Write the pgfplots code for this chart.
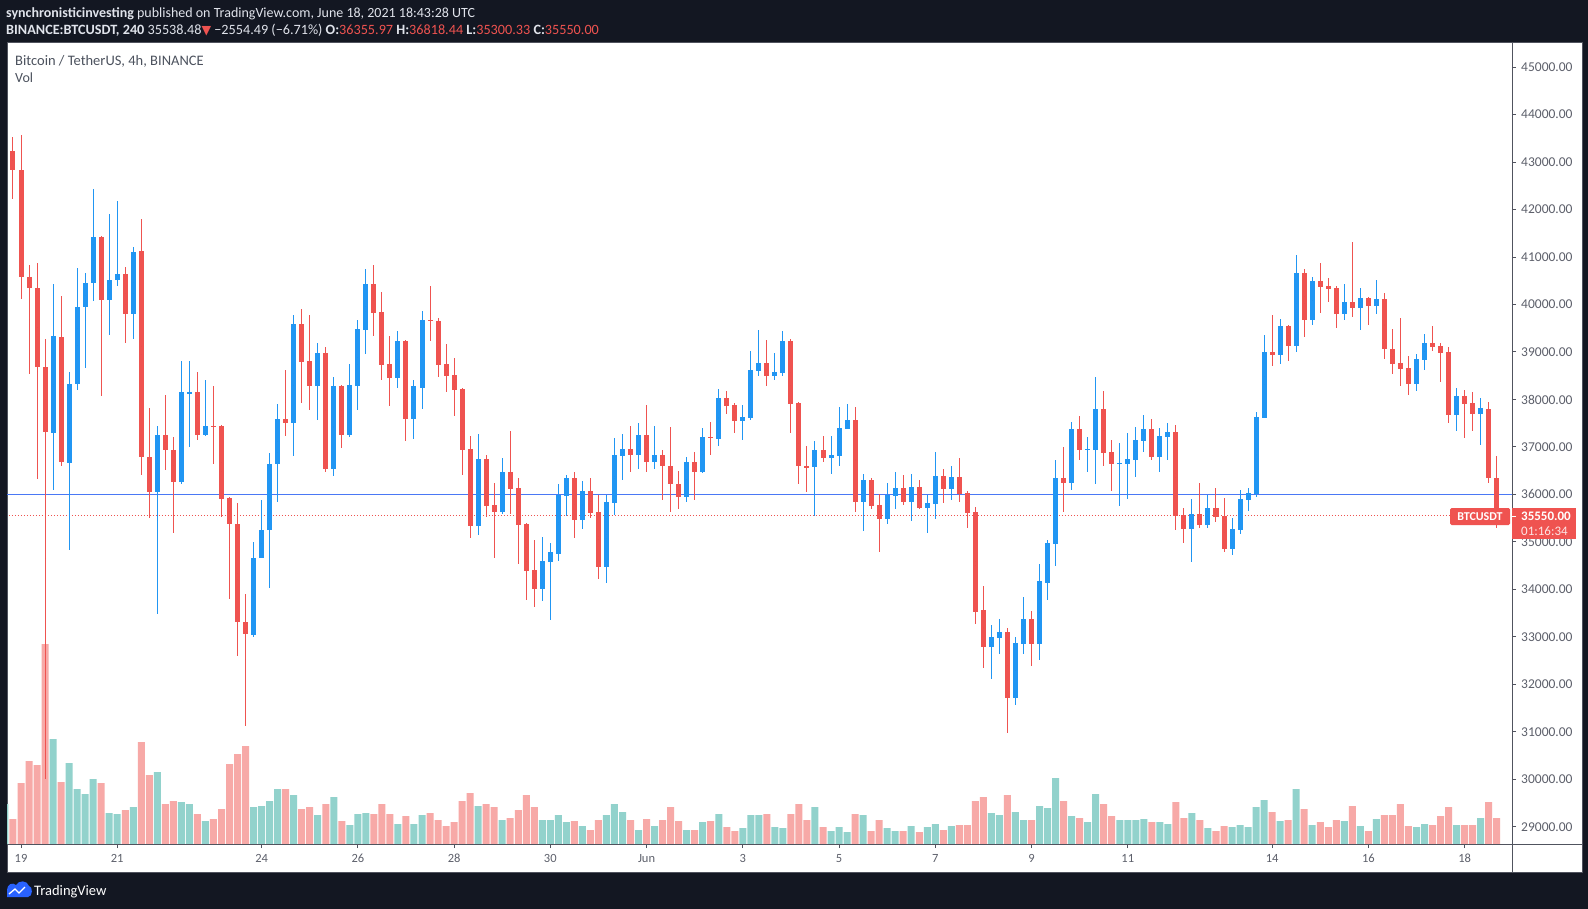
\documentclass[border=0pt]{standalone}
\usepackage{pgfplots}
\pgfplotsset{compat=1.18}
\usepackage{pgfplotstable}
\usepackage{fontspec}
\setmainfont{Carlito}
\newfontfamily\dejavu{DejaVu Sans}
\definecolor{bg}{HTML}{131722}
\definecolor{upc}{HTML}{2196F3}
\definecolor{dnc}{HTML}{EF5350}
\definecolor{upv}{HTML}{92D2CC}
\definecolor{dnv}{HTML}{F7A9A7}
\definecolor{axc}{HTML}{50535E}
\definecolor{hdr}{HTML}{E0E3EB}
\definecolor{lbl}{HTML}{5D606B}
\definecolor{ttl}{HTML}{4C525E}
\definecolor{bline}{HTML}{4A78F5}
\definecolor{tvblue}{HTML}{2962FF}

% 4h candles, i = 0 is 19 May 2021 00:00 UTC
\pgfplotstableread{
i o h l c v
-2 42939 43300 42900 43231 40
-1 43231 43523 42218 42841 25
0 42841 43581 40114 40582 61
1 40582 40825 38537 40338 83
2 40358 40874 36316 38683 79
3 38683 39277 30015 37309 200
4 37290 40436 36102 39345 105
5 39325 40182 36589 36676 62
6 36657 38585 34836 38332 81
7 38322 40777 38196 39958 55
8 39939 40669 38673 40455 50
9 40445 42442 40066 41429 65
10 41429 41450 38079 40095 61
11 40095 41897 39364 40523 31
12 40514 42189 40387 40650 30
13 40650 40796 39199 39803 34
14 39803 41215 39267 41117 37
15 41117 41799 36413 36784 102
16 36784 37826 35498 36043 69
17 36043 37446 33472 37251 72
18 37251 38098 36511 36930 40
19 36940 37212 35196 36258 43
20 36258 38819 36230 38147 42
21 38120 38819 36998 38147 40
22 38167 38585 37144 37261 30
23 37261 38400 37241 37446 23
24 37446 38274 36647 37430 25
25 37436 37460 35517 35907 35
26 35926 35950 33794 35371 80
27 35371 35810 32596 33307 90
28 33307 33910 31116 33053 98
29 33034 35001 33000 34670 37
30 34670 35888 34660 35255 38
31 35245 36881 34027 36647 43
32 36637 37913 35849 37592 55
33 37592 38624 37241 37514 55
34 37514 39783 36803 39598 49
35 39598 39910 37933 38780 35
36 38800 39783 37787 38274 37
37 38293 39199 37572 38985 29
38 38985 39111 36472 36530 40
39 36530 38478 36394 38274 47
40 38274 38300 36988 37261 23
41 37261 38751 37212 38313 19
42 38293 39676 37787 39491 30
43 39472 40757 38965 40436 31
44 40436 40835 39345 39832 30
45 39851 40270 38420 38731 40
46 38751 39345 37865 38459 30
47 38459 39452 38244 39238 20
48 39238 39260 37115 37592 28
49 37592 38400 37173 38274 20
50 38244 39871 37806 39676 29
51 39676 40397 39238 39657 31
52 39657 39715 38478 38731 24
53 38751 39179 38167 38498 18
54 38517 38878 37660 38206 22
55 38225 38240 36413 36939 43
56 36959 37241 35089 35342 51
57 35342 37280 35147 36754 38
58 36754 36832 35517 35761 40
59 35780 36248 34670 35634 37
60 35634 36774 35595 36462 24
61 36462 37339 35595 36121 26
62 36141 36355 34543 35362 34
63 35381 35400 33784 34397 49
64 34417 35050 33618 34018 37
65 34018 35108 33745 34602 24
66 34583 34982 33365 34777 24
67 34748 36229 34602 35995 29
68 35975 36414 35537 36355 22
69 36355 36482 35089 35459 23
70 35459 36287 35274 36082 18
71 36082 36355 35498 35615 14
72 35634 35995 34222 34475 24
73 34475 35995 34144 35849 29
74 35829 37193 35576 36832 40
75 36813 37280 36306 36959 32
76 36959 37446 36482 36832 24
77 36832 37495 36540 37261 14
78 37261 37894 36462 36686 25
79 36686 37446 36540 36832 18
80 36832 36939 35887 36589 24
81 36608 37426 35634 36209 37
82 36229 36501 35702 35956 23
83 35956 36793 35849 36686 14
84 36686 36900 35887 36462 14
85 36462 37407 36450 37212 22
86 37212 37534 36832 37190 23
87 37173 38225 37027 38040 30
88 38040 38186 37699 37865 17
89 37894 37933 37300 37553 13
90 37553 37894 37154 37641 16
91 37611 39024 37573 38624 29
92 38605 39472 38498 38770 29
93 38770 39257 38274 38498 30
94 38498 38985 38400 38585 17
95 38566 39452 38498 39238 16
96 39238 39277 37300 37913 30
97 37933 37950 36209 36589 40
98 36600 37027 36053 36570 24
99 36569 37134 35537 36939 37
100 36939 37241 36686 36774 17
101 36774 37241 36433 36832 13
102 36813 37845 36589 37407 17
103 37387 37913 37380 37573 12
104 37573 37845 35634 35849 30
105 35849 36433 35235 36306 29
106 36306 36336 35683 35761 13
107 35780 36014 34777 35488 24
108 35488 36248 35381 35995 16
109 35975 36482 35683 36141 13
110 36141 36414 35781 35849 13
111 35849 36433 35430 36160 18
112 36160 36306 35683 35722 12
113 35722 35995 35196 35810 17
114 35790 36900 35488 36394 20
115 36394 36540 35829 36121 14
116 36121 36589 35887 36375 18
117 36375 36774 35849 36014 19
118 36034 36082 35303 35615 19
119 35634 35741 33278 33531 43
120 33570 34076 32333 32791 47
121 32791 33258 32119 32986 31
122 32966 33385 32644 33092 29
123 33092 33190 30979 31709 49
124 31709 33005 31564 32878 32
125 32859 33842 32644 33385 24
126 33385 33550 32391 32859 24
127 32859 34524 32518 34183 38
128 34144 35050 33784 34982 36
129 34963 36735 34495 36355 66
130 36355 37008 35634 36248 43
131 36248 37534 36102 37387 28
132 37387 37660 36735 36939 26
133 36940 37212 36482 36959 22
134 36939 38478 36229 37806 50
135 37806 38186 36589 36881 40
136 36900 37154 36082 36647 28
137 36650 37085 35761 36667 24
138 36647 37300 35907 36754 24
139 36735 37426 36375 37154 24
140 37134 37680 36900 37387 25
141 37387 37592 36735 36793 22
142 36793 37407 36482 37241 22
143 37212 37495 36735 37319 20
144 37319 37465 35255 35547 42
145 35576 35722 34982 35274 26
146 35274 35907 34582 35595 31
147 35595 36248 35303 35362 24
148 35362 35995 35284 35722 16
149 35722 36141 35410 35527 13
150 35547 35927 34797 34855 18
151 34855 35508 34729 35274 17
152 35255 36102 35157 35907 19
153 35888 36141 35654 36034 17
154 36014 37738 35956 37641 37
155 37611 39364 37600 39004 44
156 39004 39783 38712 38946 32
157 38946 39705 38751 39549 23
158 39549 39560 38800 39131 24
159 39131 41049 39004 40669 55
160 40669 40738 39316 39676 35
161 39676 40582 39579 40504 19
162 40504 40884 39832 40377 22
163 40397 40562 40056 40329 17
164 40358 40397 39510 39803 24
165 39803 40436 39676 40056 23
166 40056 41322 39744 39929 38
167 39929 40358 39472 40144 18
168 40144 40163 39579 39978 13
169 39978 40523 39803 40124 25
170 40124 40251 38858 39053 29
171 39072 39491 38546 38751 29
172 38770 39725 38274 38644 40
173 38673 38926 38098 38332 18
174 38332 38965 38186 38858 17
175 38839 39384 38624 39199 20
176 39199 39549 39024 39111 19
177 39131 39199 38371 38985 28
178 39004 39111 37495 37680 37
179 37680 38244 37339 38079 19
180 38079 38206 37193 37913 19
181 37933 38147 37339 37699 19
182 37699 38021 37047 37826 26
183 37806 37952 36248 36336 42
184 36355.97 36818.44 35300.33 35550.00 26
}\candles

\pgfplotsset{
  upfilter/.style={restrict expr to domain={\thisrow{c}-\thisrow{o}}{0:100000}},
  dnfilter/.style={restrict expr to domain={\thisrow{c}-\thisrow{o}}{-100000:0}},
  wick/.style={only marks, mark size=0pt, mark options={draw=none, fill=none}, forget plot,
    error bars/y dir=both, error bars/y explicit, error bars/error mark=none,
    error bars/error bar style={draw=#1, line width=1pt, solid}},
  body/.style={only marks, mark size=0pt, mark options={draw=none, fill=none}, forget plot,
    error bars/y dir=both, error bars/y explicit, error bars/error mark=none,
    error bars/error bar style={draw=#1, line width=5pt, solid}},
  chartbox/.style={at={(7pt,-844pt)}, anchor=south west, scale only axis,
    width=1505pt, height=801pt, xmin=-1.746, xmax=185.91},
}

\begin{document}
\begin{tikzpicture}
\useasboundingbox (0,0) rectangle (1588pt,-909pt);
\begin{scope}[x=1pt,y=-1pt]
\fill[bg] (0,0) rectangle (1588,909);
\fill[white] (7,43) rectangle (1582,872);
\draw[axc, line width=1pt] (7,43) rectangle (1582,872);
\end{scope}

% volume
\begin{axis}[chartbox, ymin=0, ymax=801, hide axis, clip=true]
\addplot[upfilter, ybar, bar width=7pt, bar shift=0pt, fill=upv, draw=none] table[x=i,y=v]{\candles};
\addplot[dnfilter, ybar, bar width=7pt, bar shift=0pt, fill=dnv, draw=none] table[x=i,y=v]{\candles};
\end{axis}

% price
\begin{axis}[chartbox, ymin=28636, ymax=45509, clip=true,
  axis line style={draw=none},
  scaled y ticks=false, scaled x ticks=false,
  xtick={0,12,30,42,54,66,78,90,102,114,126,138,156,168,180},
  xticklabels={19,21,24,26,28,30,Jun,3,5,7,9,11,14,16,18},
  ytick={29000,30000,31000,32000,33000,34000,35000,36000,37000,38000,39000,40000,41000,42000,43000,44000,45000},
  yticklabels={29000.00,30000.00,31000.00,32000.00,33000.00,34000.00,35000.00,36000.00,37000.00,38000.00,39000.00,40000.00,41000.00,42000.00,43000.00,44000.00,45000.00},
  xtick pos=bottom, ytick pos=right, yticklabel pos=right,
  tick align=outside, major tick length=4pt,
  tick style={color=axc, line width=1pt},
  xticklabel style={font=\fontsize{12.5}{12.5}\selectfont, color=lbl, inner sep=0pt, yshift=-6pt},
  yticklabel style={font=\fontsize{13.5}{13.5}\selectfont, color=lbl, anchor=west, inner sep=0pt, xshift=5pt},
]
\draw[bline, line width=1pt] (axis cs:-3,36000) -- (axis cs:187,36000);
\draw[dnc, line width=1pt, dash pattern=on 1pt off 2pt] (axis cs:-3,35550) -- (axis cs:187,35550);
\addplot[upfilter, wick=upc] table[x=i, y expr={(\thisrow{h}+\thisrow{l})/2}, y error expr={(\thisrow{h}-\thisrow{l})/2}]{\candles};
\addplot[upfilter, body=upc] table[x=i, y expr={(\thisrow{o}+\thisrow{c})/2}, y error expr={max(abs(\thisrow{c}-\thisrow{o})/2,11)}]{\candles};
\addplot[dnfilter, wick=dnc] table[x=i, y expr={(\thisrow{h}+\thisrow{l})/2}, y error expr={(\thisrow{h}-\thisrow{l})/2}]{\candles};
\addplot[dnfilter, body=dnc] table[x=i, y expr={(\thisrow{o}+\thisrow{c})/2}, y error expr={max(abs(\thisrow{c}-\thisrow{o})/2,11)}]{\candles};
\end{axis}

\begin{scope}[x=1pt,y=-1pt]
% axis lines
\draw[axc, line width=1pt] (7,844) -- (1582,844);
\draw[axc, line width=1pt] (1512,43) -- (1512,872);
% header
\node[anchor=base west, inner sep=0pt, text=hdr, font=\fontsize{14}{14}\selectfont] at (6,18)
  {\textbf{synchronisticinvesting} published on TradingView.com, June 18, 2021 18:43:28 UTC};
\node[anchor=base west, inner sep=0pt, text=hdr, font=\fontsize{14.2}{14.2}\selectfont] at (6,35)
  {\textbf{BINANCE:BTCUSDT, 240} 35538.48{\color{dnc}\dejavu\fontsize{12.5}{12.5}\selectfont▼} −2554.49 (−6.71\%) \textbf{O:}{\color{dnc}36355.97} \textbf{H:}{\color{dnc}36818.44} \textbf{L:}{\color{dnc}35300.33} \textbf{C:}{\color{dnc}35550.00}};
\node[anchor=base west, inner sep=0pt, text=ttl, font=\fontsize{14.5}{14.5}\selectfont] at (15,66)
  {Bitcoin / TetherUS, 4h, BINANCE};
\node[anchor=base west, inner sep=0pt, text=ttl, font=\fontsize{14}{14}\selectfont] at (15,82.5)
  {Vol};
% last price tags
\fill[dnc, rounded corners=1.5pt] (1450,508) rectangle (1510,525);
\node[anchor=center, inner sep=0pt, text=white, font=\fontsize{12}{12}\selectfont\bfseries] at (1480,516.5) {BTCUSDT};
\fill[dnc] (1512,508) rectangle (1576,539);
\draw[white, line width=1pt] (1512,516.5) -- (1516,516.5);
\node[anchor=west, inner sep=0pt, text=white, font=\fontsize{13}{13}\selectfont\bfseries] at (1521,516.7) {35550.00};
\node[anchor=west, inner sep=0pt, text=white!85!dnc, font=\fontsize{13}{13}\selectfont] at (1521,530.7) {01:16:34};
% footer logo
\fill[tvblue] (7,897) -- (7,890) .. controls (7,884) and (13,882) .. (16,885) .. controls (19,880) and (27,880) .. (29,886) .. controls (33,886) and (33,897) .. (28,897) -- cycle;
\draw[white, line width=1.3pt] (9,894) -- (15,889) -- (19,893) -- (25,887);
\node[anchor=base west, inner sep=0pt, text=white, font=\fontsize{14.5}{14.5}\selectfont] at (34,895.5) {TradingView};
\end{scope}
\end{tikzpicture}
\end{document}
